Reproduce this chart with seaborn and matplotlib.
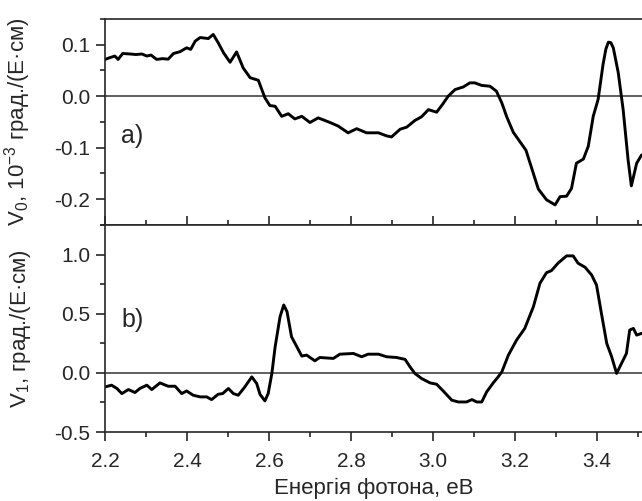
import matplotlib
matplotlib.use("Agg")
import matplotlib.pyplot as plt
import seaborn as sns
import pandas as pd
from matplotlib.ticker import MultipleLocator

# V0 (panel a)
energy_a = [2.200, 2.212, 2.224, 2.232, 2.243, 2.262, 2.275, 2.290, 2.302, 2.312,
            2.326, 2.340, 2.354, 2.367, 2.383, 2.399, 2.409, 2.420, 2.432, 2.452,
            2.464, 2.476, 2.489, 2.505, 2.521, 2.537, 2.554, 2.574, 2.590, 2.602,
            2.615, 2.631, 2.647, 2.663, 2.680, 2.700, 2.720, 2.749, 2.769, 2.793,
            2.814, 2.838, 2.867, 2.887, 2.899, 2.920, 2.936, 2.956, 2.972, 2.989,
            3.009, 3.025, 3.037, 3.054, 3.074, 3.090, 3.102, 3.119, 3.139, 3.155,
            3.168, 3.180, 3.196, 3.212, 3.227, 3.241, 3.257, 3.277, 3.298, 3.310,
            3.326, 3.338, 3.350, 3.367, 3.379, 3.391, 3.403, 3.415, 3.422, 3.428,
            3.434, 3.440, 3.452, 3.464, 3.476, 3.484, 3.497, 3.509]
v0 = [0.0715, 0.075, 0.078, 0.0715, 0.083, 0.082, 0.081, 0.082, 0.078, 0.080,
      0.0715, 0.073, 0.072, 0.083, 0.0865, 0.094, 0.091, 0.107, 0.114, 0.112,
      0.120, 0.104, 0.0845, 0.066, 0.086, 0.055, 0.036, 0.031, -0.003, -0.018,
      -0.0195, -0.039, -0.034, -0.044, -0.039, -0.051, -0.042, -0.051, -0.058, -0.071,
      -0.063, -0.071, -0.071, -0.077, -0.079, -0.064, -0.060, -0.047, -0.040, -0.026,
      -0.031, -0.014, 0.0, 0.013, 0.018, 0.026, 0.026, 0.021, 0.0195, 0.0097,
      -0.013, -0.040, -0.070, -0.088, -0.105, -0.140, -0.180, -0.201, -0.211, -0.195,
      -0.194, -0.179, -0.130, -0.122, -0.097, -0.039, -0.006, 0.062, 0.092, 0.105,
      0.104, 0.094, 0.046, -0.026, -0.123, -0.174, -0.130, -0.114]

# V1 (panel b)
energy_b = [2.200, 2.216, 2.229, 2.241, 2.257, 2.273, 2.285, 2.302, 2.314, 2.334,
            2.354, 2.371, 2.387, 2.399, 2.415, 2.432, 2.448, 2.460, 2.476, 2.487,
            2.501, 2.513, 2.525, 2.541, 2.558, 2.570, 2.578, 2.590, 2.598, 2.607,
            2.615, 2.627, 2.636, 2.644, 2.655, 2.668, 2.680, 2.692, 2.700, 2.712,
            2.724, 2.757, 2.773, 2.806, 2.826, 2.842, 2.867, 2.887, 2.911, 2.932,
            2.944, 2.956, 2.972, 2.993, 3.009, 3.025, 3.046, 3.062, 3.082, 3.095,
            3.107, 3.119, 3.131, 3.147, 3.159, 3.168, 3.184, 3.204, 3.224, 3.245,
            3.261, 3.277, 3.289, 3.305, 3.326, 3.342, 3.354, 3.371, 3.387, 3.399,
            3.411, 3.424, 3.436, 3.448, 3.460, 3.472, 3.480, 3.489, 3.497, 3.509]
v1 = [-0.119, -0.104, -0.132, -0.175, -0.141, -0.166, -0.132, -0.104, -0.141, -0.085,
      -0.113, -0.113, -0.175, -0.153, -0.189, -0.203, -0.203, -0.226, -0.181, -0.175,
      -0.132, -0.175, -0.189, -0.119, -0.034, -0.090, -0.181, -0.237, -0.175, -0.005,
      0.220, 0.475, 0.574, 0.517, 0.305, 0.220, 0.142, 0.150, 0.130, 0.102,
      0.130, 0.122, 0.158, 0.164, 0.136, 0.158, 0.158, 0.136, 0.130, 0.114,
      0.051, -0.005, -0.047, -0.085, -0.096, -0.153, -0.231, -0.246, -0.246, -0.226,
      -0.246, -0.246, -0.161, -0.085, -0.034, 0.008, 0.150, 0.277, 0.376, 0.559,
      0.757, 0.847, 0.864, 0.927, 0.989, 0.989, 0.927, 0.893, 0.828, 0.743,
      0.503, 0.249, 0.136, -0.005, 0.080, 0.164, 0.362, 0.376, 0.319, 0.334]

df_a = pd.DataFrame({"energy": energy_a, "v": v0})
df_b = pd.DataFrame({"energy": energy_b, "v": v1})

sns.set_style("ticks")
plt.rcParams["font.family"] = ["Liberation Sans", "DejaVu Sans"]
plt.rcParams["mathtext.fontset"] = "custom"
plt.rcParams["mathtext.rm"] = "Liberation Sans"
plt.rcParams["mathtext.it"] = "Liberation Sans"
plt.rcParams["axes.linewidth"] = 1.2

fig = plt.figure(figsize=(6.42, 5.01), dpi=100)
ax_a = fig.add_axes([0.1636, 0.5509, 0.8364, 0.4112])
ax_b = fig.add_axes([0.1636, 0.1377, 0.8364, 0.4132])

for ax, df in [(ax_a, df_a), (ax_b, df_b)]:
    sns.lineplot(data=df, x="energy", y="v", ax=ax, color="black", lw=2.1, sort=False)
    ax.axhline(0, color="#333333", lw=1.1, zorder=1)
    ax.set_xlim(2.2, 3.51)
    ax.spines["right"].set_visible(False)
    ax.xaxis.set_major_locator(MultipleLocator(0.2))
    ax.xaxis.set_minor_locator(MultipleLocator(0.1))
    ax.tick_params(axis="both", which="major", length=6.5, width=1.2, labelsize=15, pad=4)
    ax.tick_params(axis="both", which="minor", length=3.8, width=1.2)
    ax.tick_params(axis="y", which="both", direction="out", right=False)
    ax.set_xlabel("")

ax_a.set_ylim(-0.25, 0.15)
ax_a.yaxis.set_major_locator(MultipleLocator(0.1))
ax_a.yaxis.set_minor_locator(MultipleLocator(0.05))
ax_a.tick_params(axis="x", which="both", direction="in", top=False, labelbottom=False)
ax_a.yaxis.set_major_formatter(matplotlib.ticker.FormatStrFormatter("%.1f"))
ax_a.set_ylabel("V$_0$, 10$^{-3}$ град./(Е·см)", fontsize=16)
ax_a.yaxis.set_label_coords(-0.135, 0.5)
ax_a.text(2.238, -0.077, "a)", fontsize=18, ha="left", va="center")

ax_b.set_ylim(-0.5, 1.25)
ax_b.yaxis.set_major_locator(MultipleLocator(0.5))
ax_b.yaxis.set_minor_locator(MultipleLocator(0.25))
ax_b.tick_params(axis="x", which="both", direction="out", top=False)
ax_b.tick_params(axis="x", which="major", pad=8)
ax_b.yaxis.set_major_formatter(matplotlib.ticker.FormatStrFormatter("%.1f"))
ax_b.set_ylabel("V$_1$, град./(Е·см)", fontsize=16)
ax_b.yaxis.set_label_coords(-0.135, 0.5)
ax_b.set_xlabel("Енергія фотона, еВ", fontsize=16, labelpad=5)
ax_b.text(2.24, 0.447, "b)", fontsize=18, ha="left", va="center")

fig.savefig("out.png", dpi=100)
